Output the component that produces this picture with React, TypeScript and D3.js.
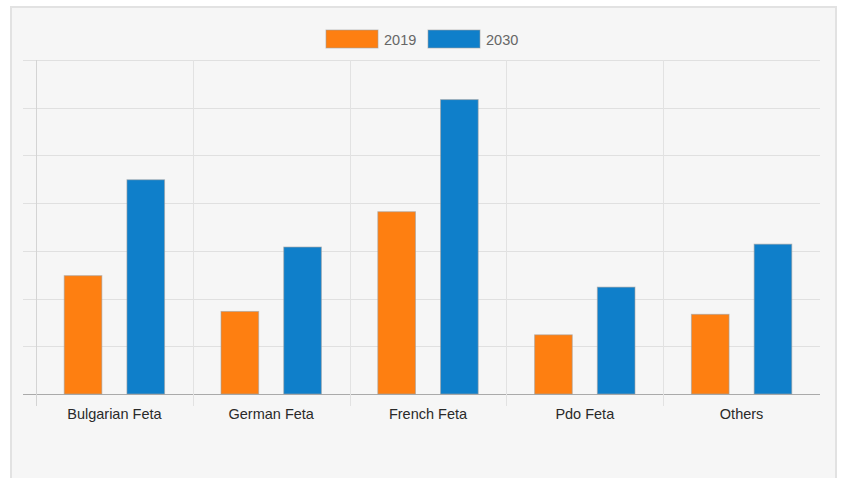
import * as d3 from 'd3';
import React, { useEffect, useRef } from 'react';

const categories = ['Bulgarian Feta', 'German Feta', 'French Feta', 'Pdo Feta', 'Others'];
const seriesNames = ['2019', '2030'];
const values2019 = [24.8, 17.3, 38.2, 12.4, 16.7];
const values2030 = [44.9, 30.8, 61.7, 22.4, 31.4];
const colors = ['#fe7f11', '#0f7fca'];

export default function App() {
  const svgRef = useRef<SVGSVGElement | null>(null);

  const width = 842;
  const height = 478;
  const marginTop = 60;
  const marginLeft = 36;
  const marginRight = 22;
  const plotBottom = 394;

  useEffect(() => {
    const svg = d3.select(svgRef.current);
    svg.selectAll('*').remove();

    // panel
    svg.append('rect')
      .attr('x', 11).attr('y', 7)
      .attr('width', 825).attr('height', 480)
      .attr('fill', '#f6f6f6')
      .attr('stroke', '#e2e2e2')
      .attr('stroke-width', 2);

    const x0 = d3.scaleBand()
      .domain(categories)
      .range([marginLeft, width - marginRight])
      .paddingInner(0)
      .paddingOuter(0);

    const x1 = d3.scaleBand()
      .domain(seriesNames)
      .range([x0.bandwidth() * 0.1, x0.bandwidth() * 0.9])
      .paddingInner(0.4)
      .paddingOuter(0.2);

    const y = d3.scaleLinear()
      .domain([0, 70])
      .range([plotBottom, marginTop]);

    // horizontal grid
    svg.append('g')
      .selectAll('line')
      .data(y.ticks(7))
      .join('line')
      .attr('x1', 23)
      .attr('x2', width - marginRight)
      .attr('y1', d => Math.round(y(d)) + 0.5)
      .attr('y2', d => Math.round(y(d)) + 0.5)
      .attr('stroke', d => (d === 0 ? '#aaaaaa' : '#e0e0e0'))
      .attr('stroke-width', 1);

    // vertical grid at category boundaries
    const bounds = categories.map(c => x0(c) as number);
    svg.append('g')
      .selectAll('line')
      .data(bounds)
      .join('line')
      .attr('x1', d => Math.round(d) + 0.5)
      .attr('x2', d => Math.round(d) + 0.5)
      .attr('y1', marginTop)
      .attr('y2', 406)
      .attr('stroke', (d, i) => (i === 0 ? '#d4d4d4' : '#e2e2e2'))
      .attr('stroke-width', 1);

    // bars
    const data = categories.map((c, i) => ({ c, vals: [values2019[i], values2030[i]] }));
    const groups = svg.append('g')
      .selectAll('g')
      .data(data)
      .join('g')
      .attr('transform', d => `translate(${x0(d.c)},0)`);

    groups.selectAll('rect')
      .data(d => d.vals.map((v, i) => ({ key: seriesNames[i], v, i })))
      .join('rect')
      .attr('x', d => x1(d.key) as number)
      .attr('y', d => y(d.v))
      .attr('width', x1.bandwidth())
      .attr('height', d => plotBottom - y(d.v))
      .attr('fill', d => colors[d.i])
      .attr('stroke', 'rgba(160,160,160,0.6)')
      .attr('stroke-width', 1);

    // x labels
    svg.append('g')
      .selectAll('text')
      .data(categories)
      .join('text')
      .attr('x', d => (x0(d) as number) + x0.bandwidth() / 2)
      .attr('y', 419)
      .attr('text-anchor', 'middle')
      .attr('font-family', 'Arial, "Liberation Sans", sans-serif')
      .attr('font-size', 14.5)
      .attr('fill', '#2a2a2a')
      .text(d => d);

    // legend
    const legendX = [326, 428];
    const legend = svg.append('g')
      .selectAll('g')
      .data(seriesNames)
      .join('g')
      .attr('transform', (d, i) => `translate(${legendX[i]},30)`);
    legend.append('rect')
      .attr('width', 52)
      .attr('height', 18)
      .attr('fill', (d, i) => colors[i])
      .attr('stroke', 'rgba(160,160,160,0.6)')
      .attr('stroke-width', 1);
    legend.append('text')
      .attr('x', 58)
      .attr('y', 14.5)
      .attr('font-family', 'Arial, "Liberation Sans", sans-serif')
      .attr('font-size', 14.5)
      .attr('fill', '#666')
      .text(d => d);
  }, []);

  return (
    <div style={{ position: 'fixed', left: 0, top: 0, width, height, background: '#fff', overflow: 'hidden' }}>
      <svg ref={svgRef} width={width} height={height}></svg>
    </div>
  );
}
